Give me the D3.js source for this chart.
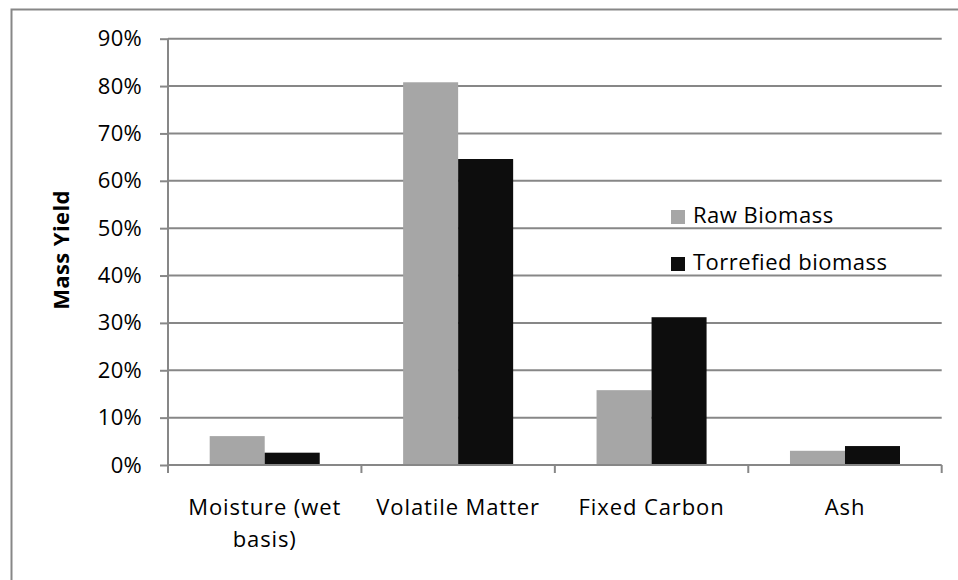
<!DOCTYPE html>
<html>
<head>
<meta charset="utf-8">
<script src="https://cdn.jsdelivr.net/npm/d3@7"></script>
<style>
  body { margin: 0; background: #fff; }
  svg { display: block; font-family: "Open Sans", sans-serif; }
</style>
</head>
<body>
<svg width="958" height="580"></svg>
<script>
// Data
const categories = [["Moisture (wet", "basis)"], ["Volatile Matter"], ["Fixed Carbon"], ["Ash"]];
const seriesNames = ["Raw Biomass", "Torrefied biomass"];
const rawValues = [0.061, 0.808, 0.158, 0.030];
const torrefiedValues = [0.026, 0.646, 0.312, 0.040];
const yTicks = [0, 0.1, 0.2, 0.3, 0.4, 0.5, 0.6, 0.7, 0.8, 0.9];

const colors = ["#a6a6a6", "#0d0d0d"];
const gridColor = "#878787";

const svg = d3.select("svg");

//Plot area
const plotLeft = 168, plotRight = 941.7, plotTop = 38.7, plotBottom = 465;

//Outer chart border (runs off the right and bottom of the picture)
svg.append("rect")
    .attr("x", 11.5).attr("y", 9.5)
    .attr("width", 1000).attr("height", 1000)
    .attr("fill", "none")
    .attr("stroke", gridColor)
    .attr("stroke-width", 2);

const catKeys = categories.map(d => d.join(" "));

const x = d3.scaleBand()
    .domain(catKeys)
    .range([plotLeft, plotRight])
    .padding(0);

const xSub = d3.scaleBand()
    .domain(seriesNames)
    .range([0, x.bandwidth()])
    .paddingInner(0)
    .paddingOuter(0.758);

const y = d3.scaleLinear()
    .domain([0, 0.9])
    .range([plotBottom, plotTop]);

//Y axis with gridlines
const yAxis = svg.append("g")
    .attr("transform", `translate(${plotLeft},0)`)
    .call(d3.axisLeft(y).tickValues(yTicks).tickFormat(d3.format(".0%")).tickSize(8).tickPadding(18));
yAxis.select(".domain").remove();
yAxis.selectAll(".tick line").attr("stroke", gridColor).attr("stroke-width", 2);
yAxis.selectAll(".tick text")
    .attr("font-size", "22px")
    .attr("font-family", "Open Sans, sans-serif")
    .attr("letter-spacing", "0.3px")
    .attr("fill", "#000");

svg.append("g")
    .selectAll("line")
    .data(yTicks.filter(d => d > 0))
    .enter()
    .append("line")
    .attr("x1", plotLeft).attr("x2", plotRight)
    .attr("y1", d => y(d)).attr("y2", d => y(d))
    .attr("stroke", gridColor)
    .attr("stroke-width", 2);

//Vertical axis line
svg.append("line")
    .attr("x1", plotLeft).attr("x2", plotLeft)
    .attr("y1", plotTop).attr("y2", plotBottom)
    .attr("stroke", gridColor)
    .attr("stroke-width", 2);

//Bars
const rows = catKeys.map((c, i) => ({ cat: c, values: [rawValues[i], torrefiedValues[i]] }));

const groups = svg.selectAll(".group")
    .data(rows)
    .enter()
    .append("g")
    .attr("class", "group")
    .attr("transform", d => `translate(${x(d.cat)},0)`);

groups.selectAll("rect")
    .data(d => d.values.map((v, i) => ({ name: seriesNames[i], value: v, i: i })))
    .enter()
    .append("rect")
    .attr("x", d => xSub(d.name))
    .attr("y", d => y(d.value))
    .attr("width", xSub.bandwidth())
    .attr("height", d => y(0) - y(d.value))
    .attr("fill", d => colors[d.i]);

//X axis
const xEdges = catKeys.map(c => x(c)).concat([plotRight]);
svg.append("line")
    .attr("x1", plotLeft).attr("x2", plotRight)
    .attr("y1", plotBottom).attr("y2", plotBottom)
    .attr("stroke", gridColor)
    .attr("stroke-width", 2);
svg.append("g")
    .selectAll("line")
    .data(xEdges)
    .enter()
    .append("line")
    .attr("x1", d => d).attr("x2", d => d)
    .attr("y1", plotBottom).attr("y2", plotBottom + 8)
    .attr("stroke", gridColor)
    .attr("stroke-width", 2);

//Category labels
const catLabels = svg.append("g")
    .selectAll("text")
    .data(categories)
    .enter()
    .append("text")
    .attr("text-anchor", "middle")
    .attr("font-size", "22px")
    .attr("letter-spacing", "0.9px")
    .attr("fill", "#000")
    .attr("transform", (d, i) => `translate(${x(catKeys[i]) + x.bandwidth() / 2},515)`);
catLabels.selectAll("tspan")
    .data(d => d)
    .enter()
    .append("tspan")
    .attr("x", 0)
    .attr("y", (d, i) => i * 31.7)
    .text(d => d);

//Y axis title
svg.append("text")
    .attr("transform", "translate(69,250) rotate(-90)")
    .attr("text-anchor", "middle")
    .attr("font-size", "22px")
    .attr("font-weight", "bold")
    .attr("letter-spacing", "0.4px")
    .text("Mass Yield");

//Legend
const legend = svg.selectAll(".legend")
    .data(seriesNames)
    .enter()
    .append("g")
    .attr("class", "legend")
    .attr("transform", (d, i) => `translate(671,${210 + i * 47})`);

legend.append("rect")
    .attr("width", 14)
    .attr("height", 14)
    .attr("fill", (d, i) => colors[i]);

legend.append("text")
    .attr("x", 22)
    .attr("y", 13)
    .attr("font-size", "22px")
    .attr("letter-spacing", "0.5px")
    .attr("fill", "#000")
    .text(d => d);
</script>
</body>
</html>
